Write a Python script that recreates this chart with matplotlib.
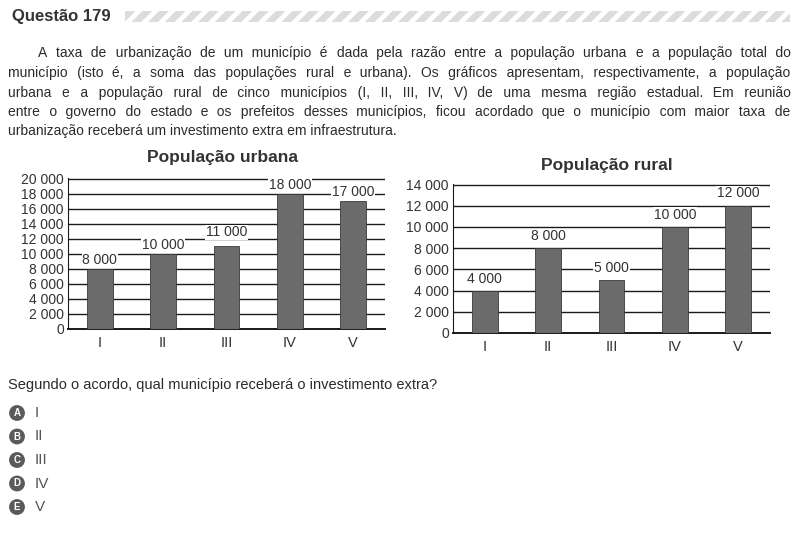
import matplotlib
matplotlib.use("Agg")
import matplotlib.pyplot as plt
from matplotlib.patches import Rectangle

W, H = 800, 537  # tamanho em pixels

# dados
municipios = ["I", "II", "III", "IV", "V"]
urbana = [8000, 10000, 11000, 18000, 17000]
rural = [4000, 8000, 5000, 10000, 12000]
urbana_ticks = list(range(0, 20001, 2000))
rural_ticks = list(range(0, 14001, 2000))

titulo = "Questão 179"
enunciado = [
    "A taxa de urbanização de um município é dada pela razão entre a população urbana e a população total do",
    "município (isto é, a soma das populações rural e urbana). Os gráficos apresentam, respectivamente, a população",
    "urbana e a população rural de cinco municípios (I, II, III, IV, V) de uma mesma região estadual. Em reunião",
    "entre o governo do estado e os prefeitos desses municípios, ficou acordado que o município com maior taxa de",
    "urbanização receberá um investimento extra em infraestrutura.",
]
pergunta = "Segundo o acordo, qual município receberá o investimento extra?"
letras = ["A", "B", "C", "D", "E"]
respostas = ["I", "II", "III", "IV", "V"]

plt.rcParams["font.family"] = ["Liberation Sans", "DejaVu Sans"]
plt.rcParams["hatch.linewidth"] = 3.5
plt.rcParams["hatch.color"] = "white"

fig = plt.figure(figsize=(W / 100, H / 100), dpi=100)
fig.patch.set_facecolor("white")


def fx(x):
    return x / W


def fy(y):
    return 1 - y / H


def fmt(v):
    return f"{v:,}".replace(",", " ")


txt = "#2b2b2b"

# cabecalho
fig.text(fx(12), fy(21), titulo, fontsize=12, fontweight="bold", color="#333333", va="baseline")
fig.add_artist(Rectangle((fx(125), fy(22)), fx(665), 11 / H, transform=fig.transFigure,
                         facecolor="#dcdcdc", edgecolor="white", hatch="//", lw=0))

# enunciado justificado (espacos finos entre palavras)
renderer = fig.canvas.get_renderer()
baselines = [57, 77, 96.5, 116, 135.5]
for k, linha in enumerate(enunciado):
    x0 = 38 if k == 0 else 8
    t = fig.text(fx(x0), fy(baselines[k]), linha, fontsize=10, color=txt, va="baseline")
    if k == len(enunciado) - 1:
        continue
    palavras = linha.split(" ")
    gaps = [" "] * (len(palavras) - 1)
    n = len(gaps)
    i = 0
    while i < 400:
        s = palavras[0] + "".join(g + p for g, p in zip(gaps, palavras[1:]))
        t.set_text(s)
        if t.get_window_extent(renderer).width >= 790 - x0:
            break
        gaps[(i * 7) % n] += "\u200a"
        i += 1


def grafico(rect, valores, ticks, nome, titulo_xy, desloc):
    ax = fig.add_axes(rect)
    pos = range(len(valores))
    ax.bar(pos, valores, width=0.41, color="#6b6b6b", edgecolor="#3a3a3a", linewidth=0.6, zorder=3)
    ax.set_xlim(-0.5, len(valores) - 0.5)
    ax.set_ylim(0, ticks[-1] * 1.004)
    ax.set_yticks(ticks)
    ax.set_yticklabels([fmt(t) for t in ticks])
    ax.set_xticks(list(pos))
    ax.set_xticklabels(municipios)
    ax.yaxis.grid(True, color="#1a1a1a", lw=1)
    ax.set_axisbelow(True)
    for s in ["top", "right"]:
        ax.spines[s].set_visible(False)
    ax.spines["left"].set_color("#1a1a1a")
    ax.spines["bottom"].set_color("#1a1a1a")
    ax.spines["bottom"].set_linewidth(1.4)
    ax.tick_params(axis="y", length=0, pad=3, labelsize=10, labelcolor="#333333")
    ax.tick_params(axis="x", length=0, pad=5, labelsize=10.5, labelcolor="#333333")
    for i, v in enumerate(valores):
        ax.annotate(fmt(v), (i, v), xytext=(0, desloc[i]), textcoords="offset points",
                    ha="center", va="bottom", fontsize=10, color="#333333", zorder=4,
                    bbox=dict(boxstyle="square,pad=0.05", fc="white", ec="none"))
    fig.text(fx(titulo_xy[0]), fy(titulo_xy[1]), nome, fontsize=12.5, fontweight="bold",
             color="#333333", ha="center", va="center")
    return ax


grafico([fx(68), fy(329), 317 / W, 151 / H], urbana, urbana_ticks, "População urbana",
        (222, 157), [1.5, 1.5, 5, 1.5, 1.5])
grafico([fx(453), fy(333), 317 / W, 149 / H], rural, rural_ticks, "População rural",
        (607, 165), [3.5, 3.5, 3.5, 3.5, 4])

# pergunta e alternativas
fig.text(fx(8), fy(389), pergunta, fontsize=10.5, color=txt, va="baseline")
for i, (l, r) in enumerate(zip(letras, respostas)):
    y = 413 + i * 23.5
    fig.text(fx(17), fy(y), l, fontsize=7, fontweight="bold", color="white", ha="center", va="center",
             bbox=dict(boxstyle="circle,pad=0.3", fc="#5a5a5a", ec="none"))
    fig.text(fx(35), fy(y), r, fontsize=11, color="#555555", va="center")

fig.savefig("out.png", dpi=100)
